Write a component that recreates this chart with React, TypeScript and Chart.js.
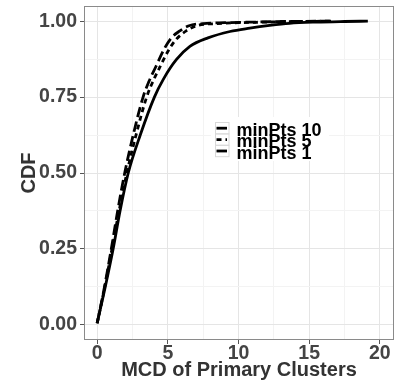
import React, { useEffect, useRef } from "react";
import { Chart, registerables } from "chart.js";

Chart.register(...registerables);

// ---- data ----
const seriesLabels = ["minPts 10", "minPts 5", "minPts 1"];

const minPts10X = [0, 0.5, 1.0, 1.45, 1.95, 2.55, 3.25, 3.65, 4.15, 4.7, 5.25, 5.85, 6.5, 7.5, 9, 11, 13.5, 16.6];
const minPts10Y = [0.005, 0.12, 0.25, 0.375, 0.5, 0.625, 0.75, 0.8, 0.85, 0.905, 0.945, 0.968, 0.985, 0.992, 0.995, 0.997, 0.999, 1.0];

const minPts5X = [0, 0.52, 1.05, 1.55, 2.1, 2.75, 3.5, 4.0, 4.45, 5.0, 5.55, 6.3, 7.2, 8.5, 10, 12, 14, 16.6];
const minPts5Y = [0.005, 0.12, 0.25, 0.375, 0.5, 0.625, 0.75, 0.807, 0.85, 0.9, 0.938, 0.968, 0.987, 0.992, 0.995, 0.997, 0.999, 1.0];

const minPts1X = [0, 0.55, 1.13, 1.62, 2.2, 3.05, 4.05, 4.7, 5.6, 6.56, 7.84, 9.4, 10.8, 12.2, 13.6, 15.5, 17.5, 19.15];
const minPts1Y = [0.005, 0.12, 0.25, 0.375, 0.5, 0.625, 0.75, 0.81, 0.873, 0.917, 0.945, 0.966, 0.977, 0.986, 0.993, 0.997, 0.999, 1.0];

const xTickValues = [0, 5, 10, 15, 20];
const xMinorValues = [2.5, 7.5, 12.5, 17.5];
const yTickValues = [0, 0.25, 0.5, 0.75, 1.0];
const yMinorValues = [0.125, 0.375, 0.625, 0.875];

const xTitle = "MCD of Primary Clusters";
const yTitle = "CDF";

const FONT = "'Liberation Sans', Arial, Helvetica, sans-serif";

const toPoints = (xs: number[], ys: number[]) => xs.map((x, i) => ({ x, y: ys[i] }));

const isMajor = (v: number, list: number[]) => list.some((t) => Math.abs(t - v) < 1e-9);

const panelPlugin = {
  id: "panelBorder",
  afterDatasetsDraw(chart: any) {
    const { ctx, chartArea } = chart;
    ctx.save();
    ctx.strokeStyle = "#8a8a8a";
    ctx.lineWidth = 1;
    ctx.strokeRect(
      Math.round(chartArea.left) + 0.5,
      Math.round(chartArea.top) + 0.5,
      Math.round(chartArea.right - chartArea.left) - 1,
      Math.round(chartArea.bottom - chartArea.top) - 1
    );
    ctx.restore();
  },
};

const legendPlugin = {
  id: "insideLegend",
  afterDraw(chart: any) {
    const { ctx } = chart;
    const left = 215;
    const top = 122;
    const rowH = 11.4;
    const keyW = 13.5;
    ctx.save();
    ctx.fillStyle = "#ffffff";
    ctx.fillRect(211, 117, 118, 44);
    chart.data.datasets.forEach((ds: any, i: number) => {
      const y0 = top + i * rowH;
      ctx.strokeStyle = "#d9d9d9";
      ctx.lineWidth = 1;
      ctx.strokeRect(left + 0.5, y0 + 0.5, keyW, rowH);
      const cy = y0 + rowH / 2 + 0.5;
      ctx.beginPath();
      ctx.setLineDash(ds.borderDash || []);
      ctx.lineWidth = ds.borderWidth;
      ctx.strokeStyle = ds.borderColor;
      ctx.moveTo(left + 1.5, cy);
      ctx.lineTo(left + keyW - 1.5, cy);
      ctx.stroke();
      ctx.setLineDash([]);
      ctx.fillStyle = "#000000";
      ctx.font = `bold 18px ${FONT}`;
      ctx.textBaseline = "alphabetic";
      ctx.textAlign = "left";
      ctx.fillText(ds.label, 236.5, y0 + 14);
    });
    ctx.restore();
  },
};

export default function App() {
  const canvasRef = useRef<HTMLCanvasElement | null>(null);

  useEffect(() => {
    document.body.style.margin = "0";
    const canvas = canvasRef.current;
    if (!canvas) return;
    const lw = 2.8;
    const chart = new Chart(canvas, {
      type: "scatter",
      data: {
        datasets: [
          {
            label: seriesLabels[0],
            data: toPoints(minPts10X, minPts10Y),
            showLine: true,
            borderColor: "#000000",
            backgroundColor: "#000000",
            borderWidth: lw,
            borderDash: [10.5, 4.5],
            pointRadius: 0,
            cubicInterpolationMode: "monotone",
          },
          {
            label: seriesLabels[1],
            data: toPoints(minPts5X, minPts5Y),
            showLine: true,
            borderColor: "#000000",
            backgroundColor: "#000000",
            borderWidth: lw,
            borderDash: [5, 4],
            pointRadius: 0,
            cubicInterpolationMode: "monotone",
          },
          {
            label: seriesLabels[2],
            data: toPoints(minPts1X, minPts1Y),
            showLine: true,
            borderColor: "#000000",
            backgroundColor: "#000000",
            borderWidth: lw,
            pointRadius: 0,
            cubicInterpolationMode: "monotone",
          },
        ],
      },
      options: {
        animation: false,
        responsive: false,
        devicePixelRatio: 1,
        layout: { padding: { top: 6, right: 6, left: 0, bottom: 0 } },
        plugins: {
          legend: { display: false },
          tooltip: { enabled: false },
        },
        scales: {
          x: {
            type: "linear",
            min: -0.93,
            max: 21,
            afterFit: (scale: any) => {
              scale.height = 46;
              scale.paddingLeft = 0;
              scale.paddingRight = 0;
            },
            afterBuildTicks: (scale: any) => {
              scale.ticks = [...xTickValues, ...xMinorValues]
                .sort((a, b) => a - b)
                .map((v) => ({ value: v }));
            },
            border: { display: false },
            grid: {
              color: (ctx: any) => (isMajor(ctx.tick?.value, xTickValues) ? "#e5e5e5" : "#f3f3f3"),
              tickColor: (ctx: any) => (isMajor(ctx.tick?.value, xTickValues) ? "#555555" : "rgba(0,0,0,0)"),
              tickLength: 4,
              lineWidth: 1,
            },
            ticks: {
              autoSkip: false,
              maxRotation: 0,
              padding: 0,
              color: "#444444",
              font: { family: FONT, weight: "bold", size: 19.5, lineHeight: 1 },
              callback: (v: any) => (isMajor(Number(v), xTickValues) ? String(v) : ""),
            },
            title: {
              display: true,
              text: xTitle,
              color: "#333333",
              font: { family: FONT, weight: "bold", size: 20, lineHeight: 1.2 },
              padding: { top: 0, bottom: 3.5 },
            },
          },
          y: {
            type: "linear",
            min: -0.05,
            max: 1.05,
            afterFit: (scale: any) => {
              scale.width = 84;
              scale.paddingTop = 0;
              scale.paddingBottom = 0;
            },
            afterBuildTicks: (scale: any) => {
              scale.ticks = [...yTickValues, ...yMinorValues]
                .sort((a, b) => a - b)
                .map((v) => ({ value: v }));
            },
            border: { display: false },
            grid: {
              color: (ctx: any) => (isMajor(ctx.tick?.value, yTickValues) ? "#e5e5e5" : "#f3f3f3"),
              tickColor: (ctx: any) => (isMajor(ctx.tick?.value, yTickValues) ? "#555555" : "rgba(0,0,0,0)"),
              tickLength: 4,
              lineWidth: 1,
            },
            ticks: {
              autoSkip: false,
              padding: 3,
              color: "#444444",
              font: { family: FONT, weight: "bold", size: 19.5, lineHeight: 1 },
              callback: (v: any) => (isMajor(Number(v), yTickValues) ? Number(v).toFixed(2) : ""),
            },
            title: {
              display: true,
              text: yTitle,
              color: "#333333",
              font: { family: FONT, weight: "bold", size: 20, lineHeight: 1.2 },
              padding: { top: 17, bottom: 0 },
            },
          },
        },
      },
      plugins: [panelPlugin, legendPlugin],
    } as any);
    return () => chart.destroy();
  }, []);

  return (
    <div style={{ width: 400, height: 386, position: "relative", background: "#ffffff" }}>
      <canvas ref={canvasRef} width={400} height={386} style={{ display: "block", width: 400, height: 386 }} />
    </div>
  );
}
